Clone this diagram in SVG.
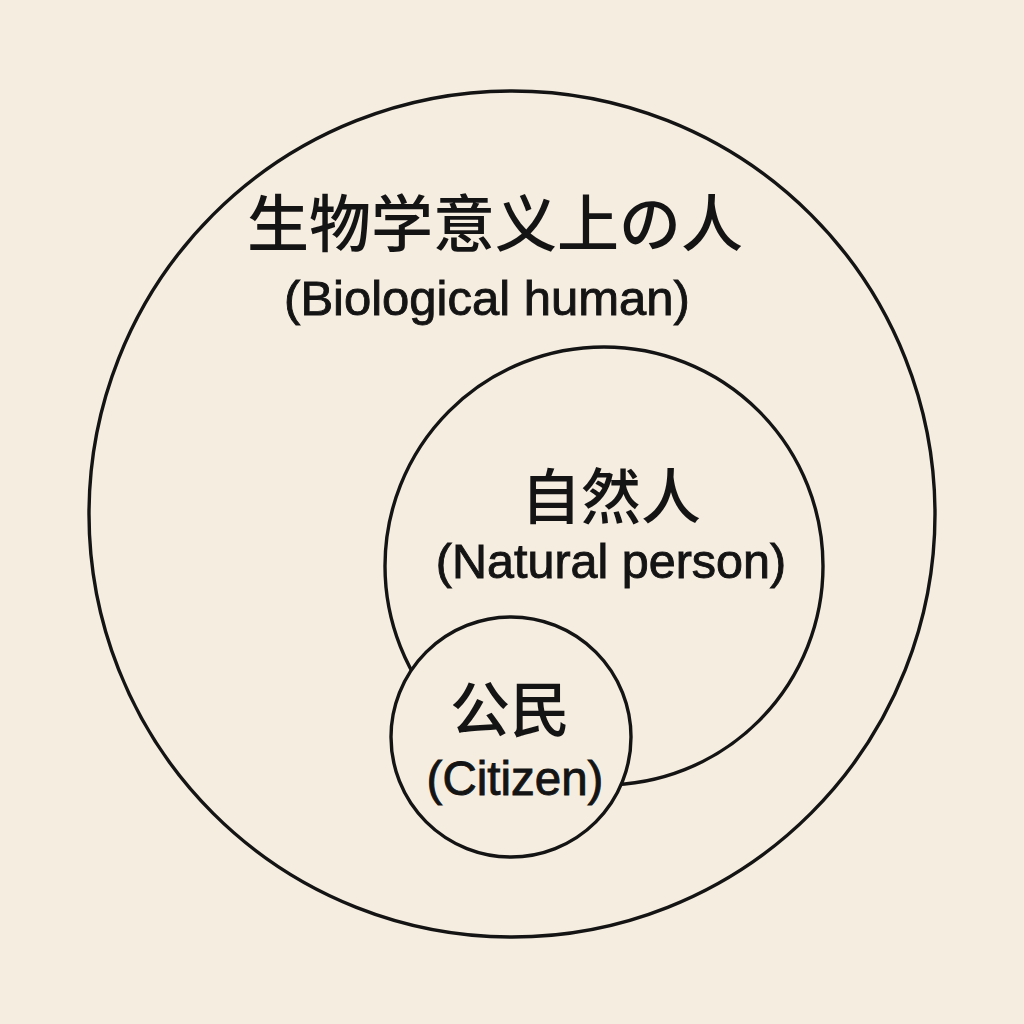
<svg xmlns="http://www.w3.org/2000/svg" width="1024" height="1024" viewBox="0 0 1024 1024">
<style>
.c{fill:none;stroke:#141414;stroke-width:3.4}
.cf{fill:#F5EDE0;stroke:#141414;stroke-width:3.4}
.cjk{font-family:"Noto Sans CJK SC","Noto Sans CJK JP",sans-serif;font-weight:500;fill:#141414;text-anchor:middle}
.en{font-family:"Liberation Sans",Arial,sans-serif;fill:#141414;stroke:#141414;stroke-width:0.9;text-anchor:middle}
</style>
<rect width="1024" height="1024" fill="#F5EDE0"/>
<g id="biological-human">
<circle class="c" cx="512" cy="514" r="423"/>
<text class="cjk" x="495" y="247" font-size="62">生物学意义上の人</text>
<text class="en" x="487" y="315" font-size="49">(Biological human)</text>
</g>
<g id="natural-person">
<circle class="c" cx="604" cy="566" r="219"/>
<text class="cjk" x="611" y="519" font-size="60">自然人</text>
<text class="en" x="611" y="578" font-size="48.5">(Natural person)</text>
</g>
<g id="citizen">
<circle class="cf" cx="511" cy="737" r="120"/>
<text class="cjk" x="510" y="732" font-size="60">公民</text>
<text class="en" x="515" y="795" font-size="47.5">(Citizen)</text>
</g>
<g id="connectors"></g>
</svg>
